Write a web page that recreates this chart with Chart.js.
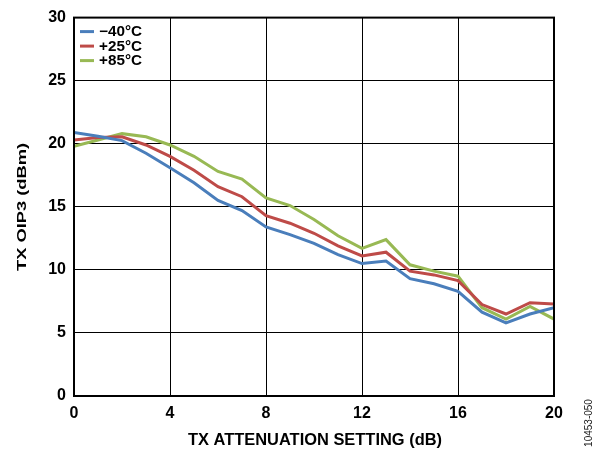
<!DOCTYPE html>
<html lang="en">
<head>
    <meta charset="UTF-8">
    <title>TX OIP3 vs TX Attenuation</title>
    <script src="https://cdn.jsdelivr.net/npm/chart.js"></script>
    <style>
        html, body {
            margin: 0;
            padding: 0;
            background: #fff;
        }
        #wrap {
            width: 599px;
            height: 454px;
        }
    </style>
</head>
<body>
    <div id="wrap"><canvas id="oip3Chart"></canvas></div>

    <script>
        // attenuation setting (dB)
        const attenuation = [0, 1, 2, 3, 4, 5, 6, 7, 8, 9, 10, 11, 12, 13, 14, 15, 16, 17, 18, 19, 20];

        // TX OIP3 (dBm) per temperature
        const oip3Minus40 = [20.9, 20.6, 20.25, 19.25, 18.1, 16.9, 15.5, 14.7, 13.4, 12.8, 12.1, 11.2, 10.5, 10.7, 9.3, 8.9, 8.3, 6.65, 5.8, 6.5, 7.0];
        const oip3Plus25 = [20.3, 20.5, 20.55, 19.9, 19.0, 17.9, 16.6, 15.8, 14.3, 13.7, 12.9, 11.9, 11.1, 11.4, 9.9, 9.6, 9.15, 7.25, 6.5, 7.4, 7.3];
        const oip3Plus85 = [19.8, 20.3, 20.8, 20.55, 19.9, 19.0, 17.8, 17.2, 15.7, 15.1, 14.0, 12.7, 11.7, 12.4, 10.4, 9.9, 9.5, 7.0, 6.1, 7.1, 6.1];

        const seriesLabels = ["\u221240\u00b0C", "+25\u00b0C", "+85\u00b0C"];
        const seriesColors = ["#4a7ebb", "#be4b48", "#98b954"];

        const xTicks = [0, 4, 8, 12, 16, 20];
        const yTicks = [0, 5, 10, 15, 20, 25, 30];

        const FONT = "Arial, 'Liberation Sans', sans-serif";

        function toPoints(values) {
            return values.map((v, i) => ({ x: attenuation[i], y: v }));
        }

        // the original type is a bit wider than Arial, so stretch text to a given width
        function stretchedText(ctx, text, x, y, width) {
            const w = ctx.measureText(text).width;
            const k = width / w;
            ctx.save();
            ctx.translate(x, y);
            ctx.scale(k, 1);
            ctx.fillText(text, 0, 0);
            ctx.restore();
        }

        // frame, legend, axis titles, figure number
        const decorations = {
            id: "decorations",
            afterDraw(chart) {
                const ctx = chart.ctx;
                const area = chart.chartArea;
                ctx.save();

                ctx.strokeStyle = "#000";
                ctx.lineWidth = 2;
                ctx.strokeRect(area.left, area.top, area.right - area.left, area.bottom - area.top);

                // legend
                ctx.font = "bold 14px " + FONT;
                ctx.textBaseline = "middle";
                ctx.textAlign = "left";
                chart.data.datasets.forEach((ds, i) => {
                    const y = area.top + 14 + i * 14.5;
                    ctx.strokeStyle = ds.borderColor;
                    ctx.lineWidth = 3;
                    ctx.beginPath();
                    ctx.moveTo(area.left + 6, y);
                    ctx.lineTo(area.left + 20, y);
                    ctx.stroke();
                    ctx.fillStyle = "#000";
                    const w = ctx.measureText(ds.label).width * 1.09;
                    stretchedText(ctx, ds.label, area.left + 25, y + 1, w);
                });

                // x title
                ctx.fillStyle = "#000";
                ctx.font = "bold 16px " + FONT;
                ctx.textAlign = "center";
                ctx.textBaseline = "middle";
                stretchedText(ctx, "TX ATTENUATION SETTING (dB)", 315, 441, 254);

                // y title
                ctx.save();
                ctx.font = "bold 13.5px " + FONT;
                ctx.textBaseline = "alphabetic";
                ctx.translate(26, 207);
                ctx.rotate(-Math.PI / 2);
                stretchedText(ctx, "TX OIP3 (dBm)", 0, 0, 128);
                ctx.restore();

                // figure number
                ctx.save();
                ctx.font = "10px " + FONT;
                ctx.fillStyle = "#222";
                ctx.translate(589, 423);
                ctx.rotate(-Math.PI / 2);
                ctx.fillText("10453-050", 0, 0);
                ctx.restore();

                ctx.restore();
            }
        };

        const datasets = [oip3Minus40, oip3Plus25, oip3Plus85].map((vals, i) => ({
            label: seriesLabels[i],
            data: toPoints(vals),
            borderColor: seriesColors[i],
            backgroundColor: seriesColors[i],
            borderWidth: 3,
            pointRadius: 0,
            tension: 0,
            fill: false
        }));

        new Chart(document.getElementById("oip3Chart"), {
            type: "line",
            data: { datasets: datasets },
            options: {
                responsive: true,
                maintainAspectRatio: false,
                animation: false,
                layout: {
                    padding: { top: 12, right: 45, left: 0, bottom: 0 }
                },
                plugins: {
                    legend: { display: false },
                    tooltip: { enabled: false }
                },
                scales: {
                    x: {
                        type: "linear",
                        min: 0,
                        max: 20,
                        afterBuildTicks: (scale) => {
                            scale.ticks = xTicks.map(v => ({ value: v }));
                        },
                        afterFit: (scale) => { scale.height = 58; },
                        grid: { color: "#000", lineWidth: 1, drawTicks: false },
                        border: { display: false },
                        ticks: {
                            padding: 8,
                            color: "#000",
                            font: { family: FONT, size: 16, weight: "bold" },
                            maxRotation: 0
                        }
                    },
                    y: {
                        min: 0,
                        max: 30,
                        afterBuildTicks: (scale) => {
                            scale.ticks = yTicks.map(v => ({ value: v }));
                        },
                        afterFit: (scale) => { scale.width = 74; },
                        grid: { color: "#000", lineWidth: 1, drawTicks: false },
                        border: { display: false },
                        ticks: {
                            padding: 8,
                            color: "#000",
                            font: { family: FONT, size: 16, weight: "bold" }
                        }
                    }
                }
            },
            plugins: [decorations]
        });
    </script>
</body>
</html>
